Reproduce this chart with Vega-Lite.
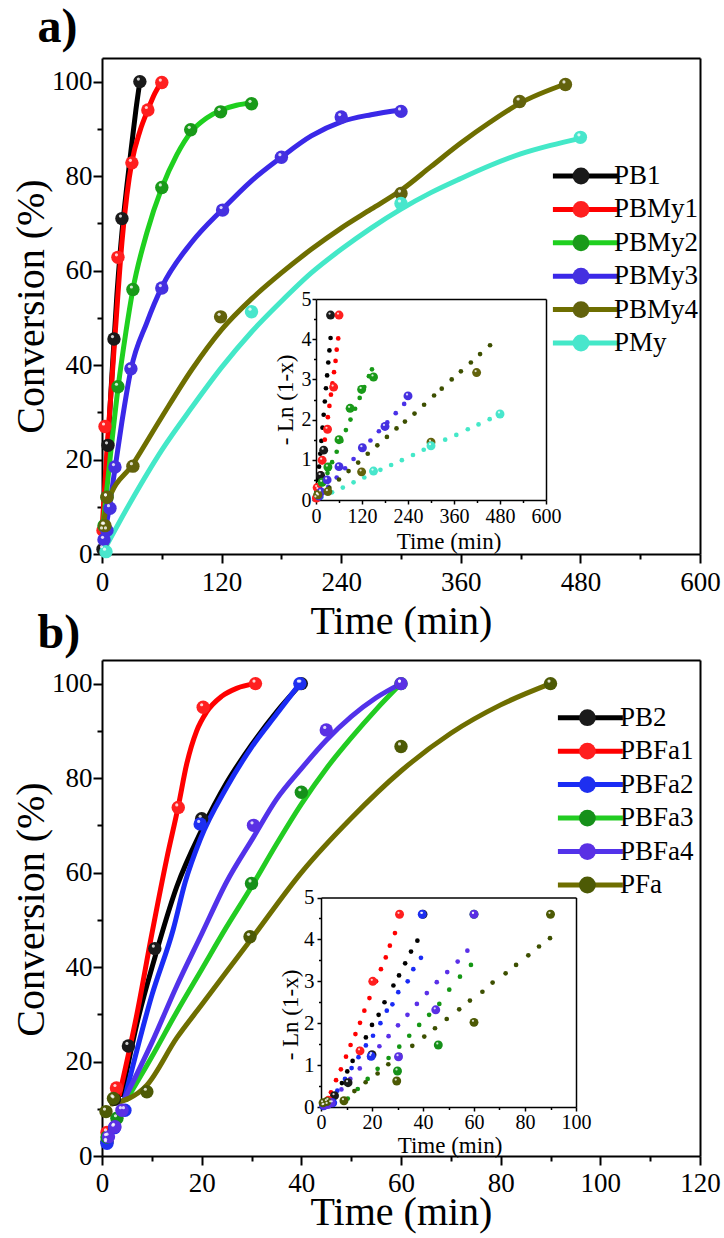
{
"$schema": "https://vega.github.io/schema/vega-lite/v6.json",
"autosize": {"type": "none"},
"padding": {"left": 102, "top": 58, "right": 24, "bottom": 82},
"background": "white",
"width": 598,
"height": 1098,
"datasets": {
"aPts": [
{"s":"PB1","t":1,"v":1},{"s":"PB1","t":6,"v":23},{"s":"PB1","t":12,"v":45.5},{"s":"PB1","t":20,"v":71},{"s":"PB1","t":38,"v":100},
{"s":"PBMy1","t":1,"v":5},{"s":"PBMy1","t":3,"v":27},{"s":"PBMy1","t":16,"v":62.8},{"s":"PBMy1","t":30,"v":82.8},{"s":"PBMy1","t":46,"v":94},{"s":"PBMy1","t":60,"v":99.8},
{"s":"PBMy2","t":2,"v":6},{"s":"PBMy2","t":5,"v":12},{"s":"PBMy2","t":16,"v":35.4},{"s":"PBMy2","t":31,"v":56},{"s":"PBMy2","t":60,"v":77.6},{"s":"PBMy2","t":89,"v":89.8},{"s":"PBMy2","t":119,"v":93.6},{"s":"PBMy2","t":150,"v":95.3},
{"s":"PBMy3","t":2,"v":3},{"s":"PBMy3","t":5,"v":5},{"s":"PBMy3","t":8,"v":9.7},{"s":"PBMy3","t":13,"v":18.4},{"s":"PBMy3","t":29,"v":39.2},{"s":"PBMy3","t":60,"v":56.3},{"s":"PBMy3","t":121,"v":72.8},{"s":"PBMy3","t":180,"v":84},{"s":"PBMy3","t":240,"v":92.5},{"s":"PBMy3","t":300,"v":93.7},
{"s":"PBMy4","t":3,"v":6},{"s":"PBMy4","t":5,"v":12},{"s":"PBMy4","t":31,"v":18.6},{"s":"PBMy4","t":119,"v":50.2},{"s":"PBMy4","t":300,"v":76.3},{"s":"PBMy4","t":419,"v":95.8},{"s":"PBMy4","t":465,"v":99.4},
{"s":"PMy","t":4,"v":0.5},{"s":"PMy","t":150,"v":51.3},{"s":"PMy","t":300,"v":74.2},{"s":"PMy","t":480,"v":88.2}
],
"aCurve": [
{"s":"PB1","t":0,"v":1},{"s":"PB1","t":5,"v":20},{"s":"PB1","t":10,"v":38},{"s":"PB1","t":15,"v":55},{"s":"PB1","t":20,"v":68},{"s":"PB1","t":25,"v":78},{"s":"PB1","t":30,"v":87},{"s":"PB1","t":34,"v":94},{"s":"PB1","t":38,"v":100},
{"s":"PBMy1","t":0,"v":5},{"s":"PBMy1","t":5,"v":22},{"s":"PBMy1","t":10,"v":37},{"s":"PBMy1","t":15,"v":52},{"s":"PBMy1","t":20,"v":66},{"s":"PBMy1","t":25,"v":76},{"s":"PBMy1","t":30,"v":83},{"s":"PBMy1","t":38,"v":89.5},{"s":"PBMy1","t":46,"v":94},{"s":"PBMy1","t":53,"v":97.5},{"s":"PBMy1","t":60,"v":100},
{"s":"PBMy2","t":0,"v":4},{"s":"PBMy2","t":8,"v":20},{"s":"PBMy2","t":16,"v":35},{"s":"PBMy2","t":24,"v":47},{"s":"PBMy2","t":31,"v":56},{"s":"PBMy2","t":45,"v":68},{"s":"PBMy2","t":60,"v":77.5},{"s":"PBMy2","t":75,"v":84.5},{"s":"PBMy2","t":90,"v":89.5},{"s":"PBMy2","t":105,"v":92.3},{"s":"PBMy2","t":120,"v":94},{"s":"PBMy2","t":135,"v":95},{"s":"PBMy2","t":150,"v":95.5},
{"s":"PBMy3","t":0,"v":2},{"s":"PBMy3","t":5,"v":7},{"s":"PBMy3","t":13,"v":18},{"s":"PBMy3","t":20,"v":28},{"s":"PBMy3","t":29,"v":39},{"s":"PBMy3","t":45,"v":49},{"s":"PBMy3","t":60,"v":56.5},{"s":"PBMy3","t":90,"v":66},{"s":"PBMy3","t":121,"v":73},{"s":"PBMy3","t":150,"v":79},{"s":"PBMy3","t":180,"v":84},{"s":"PBMy3","t":210,"v":88.5},{"s":"PBMy3","t":240,"v":91.5},{"s":"PBMy3","t":270,"v":93},{"s":"PBMy3","t":300,"v":94},
{"s":"PBMy4","t":0,"v":5},{"s":"PBMy4","t":6,"v":11},{"s":"PBMy4","t":31,"v":19},{"s":"PBMy4","t":60,"v":29},{"s":"PBMy4","t":90,"v":39},{"s":"PBMy4","t":120,"v":47.5},{"s":"PBMy4","t":150,"v":54},{"s":"PBMy4","t":180,"v":59.5},{"s":"PBMy4","t":210,"v":64.5},{"s":"PBMy4","t":240,"v":69},{"s":"PBMy4","t":270,"v":73},{"s":"PBMy4","t":300,"v":77},{"s":"PBMy4","t":330,"v":82},{"s":"PBMy4","t":360,"v":87},{"s":"PBMy4","t":390,"v":91.5},{"s":"PBMy4","t":420,"v":95.5},{"s":"PBMy4","t":465,"v":99.5},
{"s":"PMy","t":0,"v":0},{"s":"PMy","t":30,"v":11.5},{"s":"PMy","t":60,"v":22},{"s":"PMy","t":90,"v":31},{"s":"PMy","t":120,"v":39.5},{"s":"PMy","t":150,"v":47},{"s":"PMy","t":180,"v":53.5},{"s":"PMy","t":210,"v":59.5},{"s":"PMy","t":240,"v":64.5},{"s":"PMy","t":270,"v":69},{"s":"PMy","t":300,"v":73},{"s":"PMy","t":330,"v":76.5},{"s":"PMy","t":360,"v":79.5},{"s":"PMy","t":390,"v":82.3},{"s":"PMy","t":420,"v":84.7},{"s":"PMy","t":450,"v":86.5},{"s":"PMy","t":480,"v":88}
],
"aDots": [
{"s":"PB1","t":2,"v":0.2},{"s":"PB1","t":5,"v":0.5},{"s":"PB1","t":8,"v":0.83},{"s":"PB1","t":11,"v":1.15},{"s":"PB1","t":14,"v":1.47},{"s":"PB1","t":17,"v":1.8},{"s":"PB1","t":20,"v":2.12},{"s":"PB1","t":23,"v":2.45},{"s":"PB1","t":26,"v":2.78},{"s":"PB1","t":29,"v":3.1},{"s":"PB1","t":32,"v":3.42},{"s":"PB1","t":35,"v":3.72},{"s":"PB1","t":38,"v":4.03},
{"s":"PBMy1","t":4,"v":0.1},{"s":"PBMy1","t":8,"v":0.38},{"s":"PBMy1","t":12,"v":0.66},{"s":"PBMy1","t":16,"v":0.94},{"s":"PBMy1","t":19,"v":1.22},{"s":"PBMy1","t":23,"v":1.5},{"s":"PBMy1","t":27,"v":1.78},{"s":"PBMy1","t":31,"v":2.06},{"s":"PBMy1","t":35,"v":2.34},{"s":"PBMy1","t":39,"v":2.62},{"s":"PBMy1","t":43,"v":2.9},{"s":"PBMy1","t":47,"v":3.18},{"s":"PBMy1","t":51,"v":3.46},{"s":"PBMy1","t":54,"v":3.74},{"s":"PBMy1","t":58,"v":4.02},
{"s":"PBMy2","t":6,"v":0.13},{"s":"PBMy2","t":18,"v":0.4},{"s":"PBMy2","t":30,"v":0.67},{"s":"PBMy2","t":42,"v":0.94},{"s":"PBMy2","t":54,"v":1.2},{"s":"PBMy2","t":66,"v":1.47},{"s":"PBMy2","t":78,"v":1.74},{"s":"PBMy2","t":90,"v":2.0},{"s":"PBMy2","t":102,"v":2.27},{"s":"PBMy2","t":114,"v":2.54},{"s":"PBMy2","t":126,"v":2.81},{"s":"PBMy2","t":138,"v":3.08},{"s":"PBMy2","t":146,"v":3.25},
{"s":"PBMy3","t":10,"v":0.1},{"s":"PBMy3","t":32,"v":0.33},{"s":"PBMy3","t":54,"v":0.56},{"s":"PBMy3","t":76,"v":0.79},{"s":"PBMy3","t":98,"v":1.02},{"s":"PBMy3","t":120,"v":1.25},{"s":"PBMy3","t":142,"v":1.48},{"s":"PBMy3","t":164,"v":1.71},{"s":"PBMy3","t":186,"v":1.93},{"s":"PBMy3","t":208,"v":2.16},{"s":"PBMy3","t":230,"v":2.39},
{"s":"PBMy4","t":10,"v":0.09},{"s":"PBMy4","t":35,"v":0.3},{"s":"PBMy4","t":60,"v":0.51},{"s":"PBMy4","t":85,"v":0.72},{"s":"PBMy4","t":110,"v":0.93},{"s":"PBMy4","t":135,"v":1.15},{"s":"PBMy4","t":160,"v":1.36},{"s":"PBMy4","t":185,"v":1.57},{"s":"PBMy4","t":210,"v":1.78},{"s":"PBMy4","t":232,"v":1.95},{"s":"PBMy4","t":257,"v":2.15},{"s":"PBMy4","t":282,"v":2.37},{"s":"PBMy4","t":308,"v":2.6},{"s":"PBMy4","t":328,"v":2.77},{"s":"PBMy4","t":354,"v":3.0},{"s":"PBMy4","t":378,"v":3.2},{"s":"PBMy4","t":404,"v":3.42},{"s":"PBMy4","t":428,"v":3.63},{"s":"PBMy4","t":454,"v":3.85},
{"s":"PMy","t":14,"v":0.06},{"s":"PMy","t":42,"v":0.19},{"s":"PMy","t":70,"v":0.31},{"s":"PMy","t":98,"v":0.44},{"s":"PMy","t":126,"v":0.56},{"s":"PMy","t":168,"v":0.75},{"s":"PMy","t":196,"v":0.87},{"s":"PMy","t":224,"v":0.99},{"s":"PMy","t":253,"v":1.12},{"s":"PMy","t":281,"v":1.25},{"s":"PMy","t":337,"v":1.5},{"s":"PMy","t":366,"v":1.62},{"s":"PMy","t":396,"v":1.76},{"s":"PMy","t":424,"v":1.88},{"s":"PMy","t":453,"v":2.01}
],
"aBig": [
{"s":"PB1","t":6,"v":0.26},{"s":"PB1","t":12,"v":0.61},{"s":"PB1","t":20,"v":1.24},{"s":"PB1","t":38,"v":4.6},
{"s":"PBMy1","t":1,"v":0.05},{"s":"PBMy1","t":3,"v":0.31},{"s":"PBMy1","t":16,"v":0.99},{"s":"PBMy1","t":30,"v":1.76},{"s":"PBMy1","t":46,"v":2.81},{"s":"PBMy1","t":60,"v":4.6},
{"s":"PBMy2","t":5,"v":0.13},{"s":"PBMy2","t":16,"v":0.44},{"s":"PBMy2","t":31,"v":0.82},{"s":"PBMy2","t":60,"v":1.5},{"s":"PBMy2","t":89,"v":2.28},{"s":"PBMy2","t":119,"v":2.75},{"s":"PBMy2","t":150,"v":3.06},
{"s":"PBMy3","t":8,"v":0.1},{"s":"PBMy3","t":13,"v":0.2},{"s":"PBMy3","t":29,"v":0.5},{"s":"PBMy3","t":60,"v":0.83},{"s":"PBMy3","t":121,"v":1.3},{"s":"PBMy3","t":180,"v":1.83},{"s":"PBMy3","t":240,"v":2.59},
{"s":"PBMy4","t":5,"v":0.13},{"s":"PBMy4","t":31,"v":0.21},{"s":"PBMy4","t":119,"v":0.7},{"s":"PBMy4","t":300,"v":1.44},{"s":"PBMy4","t":419,"v":3.17},
{"s":"PMy","t":150,"v":0.72},{"s":"PMy","t":300,"v":1.35},{"s":"PMy","t":480,"v":2.14}
],
"bPts": [
{"s":"PB2","t":1,"v":3},{"s":"PB2","t":2.5,"v":12},{"s":"PB2","t":5.3,"v":23.3},{"s":"PB2","t":10.6,"v":43.9},{"s":"PB2","t":20,"v":71.4},{"s":"PB2","t":40,"v":100},
{"s":"PBFa1","t":1,"v":5},{"s":"PBFa1","t":2.9,"v":14.4},{"s":"PBFa1","t":15.3,"v":73.8},{"s":"PBFa1","t":20.3,"v":95},{"s":"PBFa1","t":30.8,"v":100},
{"s":"PBFa2","t":1,"v":2.7},{"s":"PBFa2","t":2.5,"v":6},{"s":"PBFa2","t":4.6,"v":9.7},{"s":"PBFa2","t":19.7,"v":70.3},{"s":"PBFa2","t":39.7,"v":100},
{"s":"PBFa3","t":1,"v":4},{"s":"PBFa3","t":3,"v":8},{"s":"PBFa3","t":30,"v":57.7},{"s":"PBFa3","t":40,"v":77},{"s":"PBFa3","t":60,"v":100},
{"s":"PBFa4","t":1.3,"v":4.1},{"s":"PBFa4","t":2.6,"v":6.2},{"s":"PBFa4","t":4,"v":9.7},{"s":"PBFa4","t":30.4,"v":70},{"s":"PBFa4","t":45,"v":90.2},{"s":"PBFa4","t":60,"v":100},
{"s":"PFa","t":0.8,"v":9.4},{"s":"PFa","t":2.3,"v":12.2},{"s":"PFa","t":9,"v":13.6},{"s":"PFa","t":29.7,"v":46.4},{"s":"PFa","t":60,"v":86.7},{"s":"PFa","t":90,"v":100}
],
"bCurve": [
{"s":"PB2","t":4,"v":13},{"s":"PB2","t":7,"v":28},{"s":"PB2","t":10.6,"v":42},{"s":"PB2","t":15,"v":57},{"s":"PB2","t":20,"v":69},{"s":"PB2","t":25,"v":79},{"s":"PB2","t":30,"v":87},{"s":"PB2","t":35,"v":94},{"s":"PB2","t":40,"v":100},
{"s":"PBFa1","t":3.5,"v":13},{"s":"PBFa1","t":7,"v":30},{"s":"PBFa1","t":10,"v":47},{"s":"PBFa1","t":13,"v":63},{"s":"PBFa1","t":15.3,"v":74},{"s":"PBFa1","t":17,"v":83},{"s":"PBFa1","t":19,"v":90},{"s":"PBFa1","t":21,"v":94},{"s":"PBFa1","t":24,"v":97.3},{"s":"PBFa1","t":27,"v":99},{"s":"PBFa1","t":30.8,"v":100},
{"s":"PBFa2","t":4.5,"v":12},{"s":"PBFa2","t":10,"v":34},{"s":"PBFa2","t":14.3,"v":48},{"s":"PBFa2","t":16.7,"v":58},{"s":"PBFa2","t":19.7,"v":67},{"s":"PBFa2","t":25,"v":78},{"s":"PBFa2","t":30,"v":86.5},{"s":"PBFa2","t":35,"v":93.5},{"s":"PBFa2","t":39.7,"v":100},
{"s":"PBFa3","t":5,"v":12},{"s":"PBFa3","t":10,"v":21},{"s":"PBFa3","t":15,"v":30.5},{"s":"PBFa3","t":20,"v":39.5},{"s":"PBFa3","t":25,"v":48.5},{"s":"PBFa3","t":30,"v":57},{"s":"PBFa3","t":35,"v":66},{"s":"PBFa3","t":40,"v":74.5},{"s":"PBFa3","t":45,"v":82},{"s":"PBFa3","t":50,"v":88.5},{"s":"PBFa3","t":55,"v":94.5},{"s":"PBFa3","t":60,"v":100},
{"s":"PBFa4","t":4.5,"v":12},{"s":"PBFa4","t":10,"v":24},{"s":"PBFa4","t":15,"v":36},{"s":"PBFa4","t":20,"v":47},{"s":"PBFa4","t":25,"v":58},{"s":"PBFa4","t":30.4,"v":67.5},{"s":"PBFa4","t":35,"v":75.5},{"s":"PBFa4","t":40,"v":82},{"s":"PBFa4","t":45,"v":88},{"s":"PBFa4","t":50,"v":93},{"s":"PBFa4","t":55,"v":97},{"s":"PBFa4","t":60,"v":100},
{"s":"PFa","t":2,"v":11},{"s":"PFa","t":9,"v":15},{"s":"PFa","t":15,"v":25},{"s":"PFa","t":20,"v":32},{"s":"PFa","t":30,"v":46},{"s":"PFa","t":40,"v":60},{"s":"PFa","t":50,"v":71.5},{"s":"PFa","t":60,"v":81.5},{"s":"PFa","t":70,"v":89.5},{"s":"PFa","t":80,"v":95.5},{"s":"PFa","t":90,"v":100}
],
"bDots": [
{"s":"PB2","t":3,"v":0.05},{"s":"PB2","t":5.6,"v":0.28},{"s":"PB2","t":8.2,"v":0.57},{"s":"PB2","t":10.3,"v":0.85},{"s":"PB2","t":12.4,"v":1.1},{"s":"PB2","t":15,"v":1.38},{"s":"PB2","t":17.6,"v":1.66},{"s":"PB2","t":20,"v":1.96},{"s":"PB2","t":22.6,"v":2.2},{"s":"PB2","t":24.9,"v":2.5},{"s":"PB2","t":28.4,"v":2.9},{"s":"PB2","t":30.6,"v":3.14},{"s":"PB2","t":33,"v":3.43},{"s":"PB2","t":35.3,"v":3.71},{"s":"PB2","t":37.8,"v":3.97},
{"s":"PBFa1","t":2,"v":0.08},{"s":"PBFa1","t":3.9,"v":0.35},{"s":"PBFa1","t":5.9,"v":0.64},{"s":"PBFa1","t":7.8,"v":0.9},{"s":"PBFa1","t":9.8,"v":1.2},{"s":"PBFa1","t":11.6,"v":1.48},{"s":"PBFa1","t":13.5,"v":1.74},{"s":"PBFa1","t":15.3,"v":2.01},{"s":"PBFa1","t":17,"v":2.3},{"s":"PBFa1","t":19,"v":2.6},{"s":"PBFa1","t":21.6,"v":3.0},{"s":"PBFa1","t":23.5,"v":3.29},{"s":"PBFa1","t":25.4,"v":3.57},{"s":"PBFa1","t":27,"v":3.85},{"s":"PBFa1","t":29,"v":4.15},
{"s":"PBFa2","t":3.2,"v":0.16},{"s":"PBFa2","t":6.4,"v":0.39},{"s":"PBFa2","t":9.4,"v":0.67},{"s":"PBFa2","t":12,"v":0.93},{"s":"PBFa2","t":14.7,"v":1.19},{"s":"PBFa2","t":17.6,"v":1.47},{"s":"PBFa2","t":20.4,"v":1.7},{"s":"PBFa2","t":23.3,"v":2.0},{"s":"PBFa2","t":25.8,"v":2.3},{"s":"PBFa2","t":28,"v":2.45},{"s":"PBFa2","t":30.3,"v":2.74},{"s":"PBFa2","t":34,"v":3.0},{"s":"PBFa2","t":36.2,"v":3.29},{"s":"PBFa2","t":39.2,"v":3.56},
{"s":"PBFa3","t":10.5,"v":0.2},{"s":"PBFa3","t":14.4,"v":0.43},{"s":"PBFa3","t":18.3,"v":0.67},{"s":"PBFa3","t":22.2,"v":0.91},{"s":"PBFa3","t":26.5,"v":1.17},{"s":"PBFa3","t":30.7,"v":1.44},{"s":"PBFa3","t":34.6,"v":1.7},{"s":"PBFa3","t":38.5,"v":1.96},{"s":"PBFa3","t":42.4,"v":2.2},{"s":"PBFa3","t":46.4,"v":2.46},{"s":"PBFa3","t":50.3,"v":2.8},{"s":"PBFa3","t":54.5,"v":3.11},{"s":"PBFa3","t":58.8,"v":3.39},
{"s":"PBFa4","t":4.5,"v":0.18},{"s":"PBFa4","t":8,"v":0.42},{"s":"PBFa4","t":11.5,"v":0.67},{"s":"PBFa4","t":15.2,"v":0.92},{"s":"PBFa4","t":19,"v":1.17},{"s":"PBFa4","t":22.9,"v":1.45},{"s":"PBFa4","t":26.5,"v":1.69},{"s":"PBFa4","t":30.2,"v":1.95},{"s":"PBFa4","t":33.9,"v":2.2},{"s":"PBFa4","t":37.6,"v":2.46},{"s":"PBFa4","t":41.5,"v":2.72},{"s":"PBFa4","t":45.4,"v":2.98},{"s":"PBFa4","t":49.5,"v":3.22},{"s":"PBFa4","t":53.6,"v":3.47},{"s":"PBFa4","t":57.4,"v":3.73},
{"s":"PFa","t":13.1,"v":0.38},{"s":"PFa","t":17.5,"v":0.59},{"s":"PFa","t":22.2,"v":0.8},{"s":"PFa","t":26.4,"v":1.02},{"s":"PFa","t":31,"v":1.24},{"s":"PFa","t":35.8,"v":1.46},{"s":"PFa","t":40.5,"v":1.68},{"s":"PFa","t":44.7,"v":1.88},{"s":"PFa","t":49.3,"v":2.1},{"s":"PFa","t":54.2,"v":2.33},{"s":"PFa","t":58.4,"v":2.54},{"s":"PFa","t":63.3,"v":2.75},{"s":"PFa","t":67.3,"v":2.97},{"s":"PFa","t":72.4,"v":3.19},{"s":"PFa","t":76.5,"v":3.39},{"s":"PFa","t":81.3,"v":3.62},{"s":"PFa","t":85.5,"v":3.83},{"s":"PFa","t":89.8,"v":4.03}
],
"bBig": [
{"s":"PB2","t":5.3,"v":0.27},{"s":"PB2","t":10.6,"v":0.58},{"s":"PB2","t":20,"v":1.25},{"s":"PB2","t":40,"v":4.6},
{"s":"PBFa1","t":2.9,"v":0.16},{"s":"PBFa1","t":15.3,"v":1.34},{"s":"PBFa1","t":20.3,"v":3.0},{"s":"PBFa1","t":30.8,"v":4.6},
{"s":"PBFa2","t":1,"v":0.03},{"s":"PBFa2","t":4.6,"v":0.1},{"s":"PBFa2","t":19.7,"v":1.21},{"s":"PBFa2","t":39.7,"v":4.6},
{"s":"PBFa3","t":30,"v":0.86},{"s":"PBFa3","t":46,"v":1.48},{"s":"PBFa3","t":60,"v":4.6},
{"s":"PBFa4","t":1.3,"v":0.04},{"s":"PBFa4","t":2.6,"v":0.06},{"s":"PBFa4","t":4,"v":0.1},{"s":"PBFa4","t":30.4,"v":1.2},{"s":"PBFa4","t":45,"v":2.32},{"s":"PBFa4","t":60,"v":4.6},
{"s":"PFa","t":0.8,"v":0.1},{"s":"PFa","t":2.3,"v":0.13},{"s":"PFa","t":9,"v":0.15},{"s":"PFa","t":29.7,"v":0.62},{"s":"PFa","t":60,"v":2.02},{"s":"PFa","t":90,"v":4.6}
]
},
"resolve": {"scale": {"x": "independent", "y": "independent", "fill": "independent", "stroke": "independent"}, "axis": {"x": "independent", "y": "independent"}},
"layer": [
{
"data": {"name": "aCurve"},
"mark": {"type": "line", "strokeWidth": 5, "interpolate": "monotone", "strokeCap": "round"},
"encoding": {
"x": {"field": "t", "type": "quantitative", "scale": {"domain": [0, 600], "nice": false, "zero": false},
 "axis": {"orient": "bottom", "offset": -602, "values": [0,120,240,360,480,600], "title": "Time (min)", "titleFontSize": 40, "titleBaseline": "alphabetic", "titleY": 79, "labelFontSize": 27, "labelPadding": 6, "tickSize": 9, "tickWidth": 2, "domainWidth": 2}},
"y": {"field": "v", "type": "quantitative", "scale": {"domain": [0, 105], "range": [496, 0], "nice": false, "zero": false},
 "axis": {"orient": "left", "values": [0,20,40,60,80,100], "title": "Conversion (%)", "titleFontSize": 40, "titleBaseline": "alphabetic", "titleX": -59, "titleY": 248, "titleAlign": "center", "labelFontSize": 27, "labelPadding": 1, "tickSize": 9, "tickWidth": 2, "domainWidth": 2}},
"stroke": {"field": "s", "type": "nominal", "scale": {"domain": ["PB1","PBMy1","PBMy2","PBMy3","PBMy4","PMy"], "range": ["#000000","#ff0000","#1fd01f","#3a28e8","#6e6e00","#44e8c8"]},
 "legend": {"orient": "none", "legendX": 469.9, "legendY": 104.5, "title": null, "symbolType": "M-4,0H4", "symbolSize": 264, "symbolStrokeWidth": 5, "labelExpr": "' '", "labelOpacity": 0, "labelFontSize": 27, "labelFont": "Liberation Serif", "rowPadding": 5.4, "padding": 0}}
}
},
{
"data": {"name": "aPts"},
"mark": {"type": "circle", "size": 180, "opacity": 1},
"encoding": {
"x": {"field": "t", "type": "quantitative", "scale": {"domain": [0, 600], "nice": false, "zero": false},
 "axis": {"orient": "top", "labels": false, "ticks": false, "domainWidth": 2, "title": "a)", "titleFontSize": 48, "titleFontWeight": "bold", "titleBaseline": "alphabetic", "titleAlign": "left", "titleAnchor": "start", "titleX": -65, "titleY": -17, "titleAngle": 0}},
"y": {"field": "v", "type": "quantitative", "scale": {"domain": [0, 105], "range": [496, 0], "nice": false, "zero": false},
 "axis": {"orient": "right", "labels": false, "ticks": false, "domainWidth": 2, "title": null}},
"fill": {"field": "s", "type": "nominal", "scale": {"domain": ["PB1","PBMy1","PBMy2","PBMy3","PBMy4","PMy"], "range": ["#1a1a1a","#ff1f1f","#199a19","#4530e0","#62620c","#48e6cc"]},
 "legend": {"orient": "none", "legendX": 465.5, "legendY": 104.5, "title": null, "symbolType": "circle", "symbolSize": 283, "symbolStrokeWidth": 0, "labelFontSize": 27, "labelFont": "Liberation Serif", "labelColor": "black", "labelOffset": 19.5, "rowPadding": 5.4, "padding": 0}}
}
},
{
"data": {"name": "aPts"},
"mark": {"type": "circle", "size": 10, "opacity": 0.8, "color": "white", "xOffset": -1.5, "yOffset": -2.5},
"encoding": {
"x": {"field": "t", "type": "quantitative", "scale": {"domain": [0, 600], "nice": false, "zero": false},
 "axis": {"orient": "bottom", "offset": -602, "values": [60,180,300,420,540], "labels": false, "domain": false, "title": null, "tickSize": 5, "tickWidth": 2}},
"y": {"field": "v", "type": "quantitative", "scale": {"domain": [0, 105], "range": [496, 0], "nice": false, "zero": false},
 "axis": {"orient": "left", "values": [10,30,50,70,90], "labels": false, "domain": false, "title": null, "tickSize": 5, "tickWidth": 2}}
}
},
{
"data": {"name": "aDots"},
"mark": {"type": "circle", "size": 22, "opacity": 1},
"encoding": {
"x": {"field": "t", "type": "quantitative", "scale": {"domain": [0, 600], "range": [214, 444], "nice": false, "zero": false},
 "axis": {"orient": "bottom", "offset": -656, "values": [0,120,240,360,480,600], "title": "Time (min)", "titleFontSize": 23, "titleBaseline": "alphabetic", "titleY": 48, "titleX": 346.5, "titleAlign": "center", "labelFontSize": 20, "labelPadding": 2, "tickSize": 4, "tickWidth": 1.5, "domainWidth": 1.5}},
"y": {"field": "v", "type": "quantitative", "scale": {"domain": [0, 5], "range": [442, 241], "nice": false, "zero": false},
 "axis": {"orient": "left", "offset": -214, "values": [0,1,2,3,4,5], "title": "- Ln (1-x)", "titleFontSize": 23, "titleBaseline": "alphabetic", "titleX": -24, "titleY": 341.5, "titleAlign": "center", "labelFontSize": 20, "labelPadding": 1, "tickSize": 4, "tickWidth": 1.5, "domainWidth": 1.5}},
"fill": {"field": "s", "type": "nominal", "scale": {"domain": ["PB1","PBMy1","PBMy2","PBMy3","PBMy4","PMy"], "range": ["#000000","#ff0000","#179917","#4a32e8","#3d4f00","#44e8c8"]}, "legend": null}
}
},
{
"data": {"name": "aBig"},
"mark": {"type": "circle", "size": 80, "opacity": 1},
"encoding": {
"x": {"field": "t", "type": "quantitative", "scale": {"domain": [0, 600], "range": [214, 444], "nice": false, "zero": false},
 "axis": {"orient": "top", "offset": -241, "labels": false, "ticks": false, "title": null, "domainWidth": 1.5}},
"y": {"field": "v", "type": "quantitative", "scale": {"domain": [0, 5], "range": [442, 241], "nice": false, "zero": false},
 "axis": {"orient": "right", "offset": -154, "labels": false, "ticks": false, "title": null, "domainWidth": 1.5}},
"fill": {"field": "s", "type": "nominal", "scale": {"domain": ["PB1","PBMy1","PBMy2","PBMy3","PBMy4","PMy"], "range": ["#1a1a1a","#ff1f1f","#199a19","#4530e0","#62620c","#48e6cc"]}, "legend": null}
}
},
{
"data": {"name": "aBig"},
"mark": {"type": "circle", "size": 5, "opacity": 0.8, "color": "white", "xOffset": -1, "yOffset": -1.5},
"encoding": {
"x": {"field": "t", "type": "quantitative", "scale": {"domain": [0, 600], "range": [214, 444], "nice": false, "zero": false},
 "axis": {"orient": "bottom", "offset": -656, "values": [60,180,300,420,540], "labels": false, "domain": false, "title": null, "tickSize": 2.5, "tickWidth": 1.5}},
"y": {"field": "v", "type": "quantitative", "scale": {"domain": [0, 5], "range": [442, 241], "nice": false, "zero": false},
 "axis": {"orient": "left", "offset": -214, "values": [0.5,1.5,2.5,3.5,4.5], "labels": false, "domain": false, "title": null, "tickSize": 2.5, "tickWidth": 1.5}}
}
},
{
"data": {"name": "bCurve"},
"mark": {"type": "line", "strokeWidth": 5, "interpolate": "monotone", "strokeCap": "round"},
"encoding": {
"x": {"field": "t", "type": "quantitative", "scale": {"domain": [0, 120], "nice": false, "zero": false},
 "axis": {"orient": "bottom", "values": [0,20,40,60,80,100,120], "title": "Time (min)", "titleFontSize": 40, "titleBaseline": "alphabetic", "titleY": 68, "labelFontSize": 27, "labelPadding": 5, "tickSize": 9, "tickWidth": 2, "domainWidth": 2}},
"y": {"field": "v", "type": "quantitative", "scale": {"domain": [0, 105], "range": [1098, 602], "nice": false, "zero": false},
 "axis": {"orient": "left", "values": [0,20,40,60,80,100], "title": "Conversion (%)", "titleFontSize": 40, "titleBaseline": "alphabetic", "titleX": -59, "titleY": 851, "titleAlign": "center", "labelFontSize": 27, "labelPadding": 1, "tickSize": 9, "tickWidth": 2, "domainWidth": 2}},
"stroke": {"field": "s", "type": "nominal", "scale": {"domain": ["PB2","PBFa1","PBFa2","PBFa3","PBFa4","PFa"], "range": ["#000000","#ff0000","#1a2cf5","#22cc22","#5232ea","#6e6e00"]},
 "legend": {"orient": "none", "legendX": 474.9, "legendY": 646.2, "title": null, "symbolType": "M-4,0H4", "symbolSize": 264, "symbolStrokeWidth": 5, "labelExpr": "' '", "labelOpacity": 0, "labelFontSize": 27, "labelFont": "Liberation Serif", "rowPadding": 5.46, "padding": 0}}
}
},
{
"data": {"name": "bPts"},
"mark": {"type": "circle", "size": 180, "opacity": 1},
"encoding": {
"x": {"field": "t", "type": "quantitative", "scale": {"domain": [0, 120], "nice": false, "zero": false},
 "axis": {"orient": "top", "offset": -602, "labels": false, "ticks": false, "domainWidth": 2, "title": "b)", "titleFontSize": 48, "titleFontWeight": "bold", "titleBaseline": "alphabetic", "titleAlign": "left", "titleAnchor": "start", "titleX": -65, "titleY": -13, "titleAngle": 0}},
"y": {"field": "v", "type": "quantitative", "scale": {"domain": [0, 105], "range": [1098, 602], "nice": false, "zero": false},
 "axis": {"orient": "right", "labels": false, "ticks": false, "domainWidth": 2, "title": null}},
"fill": {"field": "s", "type": "nominal", "scale": {"domain": ["PB2","PBFa1","PBFa2","PBFa3","PBFa4","PFa"], "range": ["#1a1a1a","#ff1f1f","#1e2ff0","#16901a","#5a30e4","#4d5a05"]},
 "legend": {"orient": "none", "legendX": 471.9, "legendY": 646.2, "title": null, "symbolType": "circle", "symbolSize": 283, "symbolStrokeWidth": 0, "labelFontSize": 27, "labelFont": "Liberation Serif", "labelColor": "black", "labelOffset": 19, "rowPadding": 5.46, "padding": 0}}
}
},
{
"data": {"name": "bPts"},
"mark": {"type": "circle", "size": 10, "opacity": 0.8, "color": "white", "xOffset": -1.5, "yOffset": -2.5},
"encoding": {
"x": {"field": "t", "type": "quantitative", "scale": {"domain": [0, 120], "nice": false, "zero": false},
 "axis": {"orient": "bottom", "values": [10,30,50,70,90,110], "labels": false, "domain": false, "title": null, "tickSize": 5, "tickWidth": 2}},
"y": {"field": "v", "type": "quantitative", "scale": {"domain": [0, 105], "range": [1098, 602], "nice": false, "zero": false},
 "axis": {"orient": "left", "values": [10,30,50,70,90], "labels": false, "domain": false, "title": null, "tickSize": 5, "tickWidth": 2}}
}
},
{
"data": {"name": "bDots"},
"mark": {"type": "circle", "size": 22, "opacity": 1},
"encoding": {
"x": {"field": "t", "type": "quantitative", "scale": {"domain": [0, 100], "range": [219, 474], "nice": false, "zero": false},
 "axis": {"orient": "bottom", "offset": -49, "values": [0,20,40,60,80,100], "title": "Time (min)", "titleFontSize": 23, "titleBaseline": "alphabetic", "titleY": 45, "titleX": 347.5, "titleAlign": "center", "labelFontSize": 20, "labelPadding": 1, "tickSize": 4, "tickWidth": 1.5, "domainWidth": 1.5}},
"y": {"field": "v", "type": "quantitative", "scale": {"domain": [0, 5], "range": [1049, 839.5], "nice": false, "zero": false},
 "axis": {"orient": "left", "offset": -219, "values": [0,1,2,3,4,5], "title": "- Ln (1-x)", "titleFontSize": 23, "titleBaseline": "alphabetic", "titleX": -24, "titleY": 956.5, "titleAlign": "center", "labelFontSize": 21, "labelPadding": 3, "tickSize": 4, "tickWidth": 1.5, "domainWidth": 1.5}},
"fill": {"field": "s", "type": "nominal", "scale": {"domain": ["PB2","PBFa1","PBFa2","PBFa3","PBFa4","PFa"], "range": ["#000000","#ff0000","#1a2cf5","#149614","#5a30e8","#3d4f00"]}, "legend": null}
}
},
{
"data": {"name": "bBig"},
"mark": {"type": "circle", "size": 80, "opacity": 1},
"encoding": {
"x": {"field": "t", "type": "quantitative", "scale": {"domain": [0, 100], "range": [219, 474], "nice": false, "zero": false},
 "axis": {"orient": "top", "offset": -839.5, "labels": false, "ticks": false, "title": null, "domainWidth": 1.5}},
"y": {"field": "v", "type": "quantitative", "scale": {"domain": [0, 5], "range": [1049, 839.5], "nice": false, "zero": false},
 "axis": {"orient": "right", "offset": -124, "labels": false, "ticks": false, "title": null, "domainWidth": 1.5}},
"fill": {"field": "s", "type": "nominal", "scale": {"domain": ["PB2","PBFa1","PBFa2","PBFa3","PBFa4","PFa"], "range": ["#1a1a1a","#ff1f1f","#1e2ff0","#16901a","#5a30e4","#4d5a05"]}, "legend": null}
}
},
{
"data": {"name": "bBig"},
"mark": {"type": "circle", "size": 5, "opacity": 0.8, "color": "white", "xOffset": -1, "yOffset": -1.5},
"encoding": {
"x": {"field": "t", "type": "quantitative", "scale": {"domain": [0, 100], "range": [219, 474], "nice": false, "zero": false},
 "axis": {"orient": "bottom", "offset": -49, "values": [10,30,50,70,90], "labels": false, "domain": false, "title": null, "tickSize": 2.5, "tickWidth": 1.5}},
"y": {"field": "v", "type": "quantitative", "scale": {"domain": [0, 5], "range": [1049, 839.5], "nice": false, "zero": false},
 "axis": {"orient": "left", "offset": -219, "values": [0.5,1.5,2.5,3.5,4.5], "labels": false, "domain": false, "title": null, "tickSize": 2.5, "tickWidth": 1.5}}
}
}
],
"config": {
"font": "Liberation Serif",
"view": {"stroke": null},
"axis": {"domainColor": "black", "tickColor": "black", "labelColor": "black", "titleColor": "black", "labelFont": "Liberation Serif", "titleFont": "Liberation Serif", "titleFontWeight": "normal", "grid": false, "labelFlush": false, "labelOverlap": false},
"legend": {"labelColor": "black", "labelFont": "Liberation Serif"}
}
}
